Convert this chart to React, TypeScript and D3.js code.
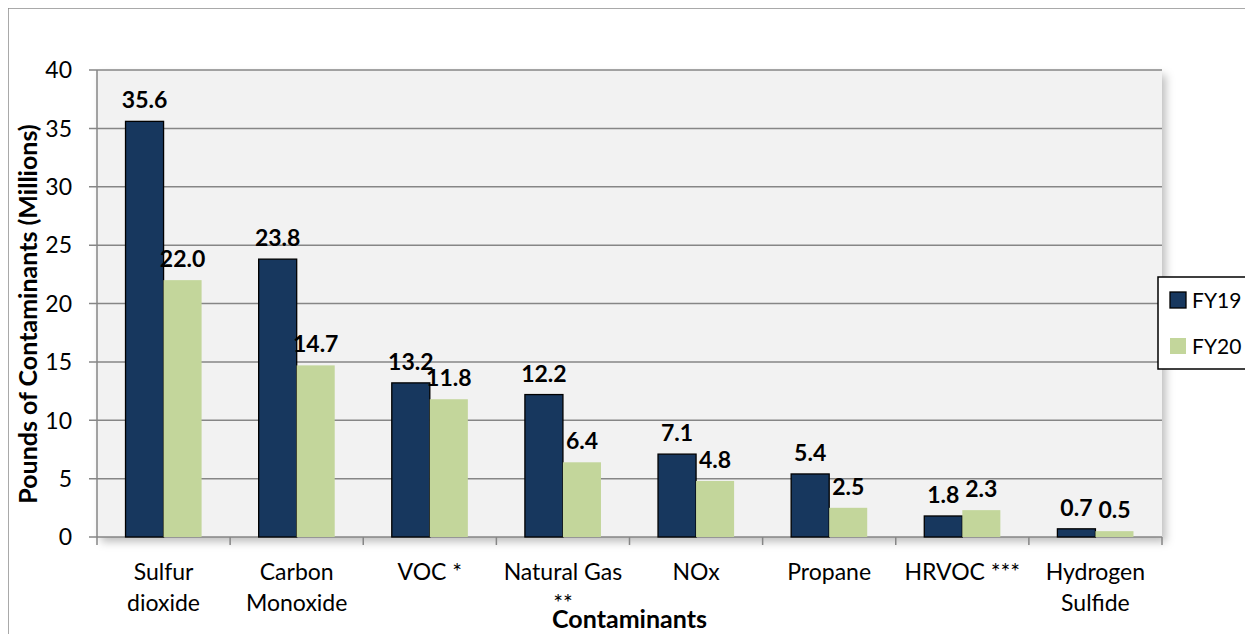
import React from "react";
import * as d3 from "d3";

const categories = [
  ["Sulfur", "dioxide"],
  ["Carbon", "Monoxide"],
  ["VOC *"],
  ["Natural Gas", "**"],
  ["NOx"],
  ["Propane"],
  ["HRVOC ***"],
  ["Hydrogen", "Sulfide"],
];
const seriesNames = ["FY19", "FY20"];
const fy19 = [35.6, 23.8, 13.2, 12.2, 7.1, 5.4, 1.8, 0.7];
const fy20 = [22.0, 14.7, 11.8, 6.4, 4.8, 2.5, 2.3, 0.5];
const yTicks = [0, 5, 10, 15, 20, 25, 30, 35, 40];

const colors = ["#17375E", "#C3D69B"];
const FONT = "Lato, 'Open Sans', sans-serif";
const FS = 23;

export default function App() {
  const W = 1245, H = 626;
  // svg origin at page (8,8)
  const left = 89, right = 1154, top = 62, bottom = 529;
  const keys = categories.map((_, i) => String(i));
  const x = d3.scaleBand<string>().domain(keys).range([left, right]).paddingInner(0).paddingOuter(0);
  const bw = x.bandwidth();
  const barW = bw / 3.5;
  const y = d3.scaleLinear().domain([0, 40]).range([bottom, top]);
  const data = [fy19, fy20];

  return (
    <svg width={W} height={H} style={{ display: "block", fontFamily: FONT }}>
      <defs>
        <filter id="sh" x="-5%" y="-5%" width="110%" height="115%">
          <feDropShadow dx="4" dy="5" stdDeviation="4" floodColor="#000" floodOpacity="0.25" />
        </filter>
      </defs>
      {/* outer border (left & top visible) */}
      <line x1={0} y1={0} x2={W} y2={0} stroke="#8c8c8c" strokeWidth={1.5} />
      <line x1={0} y1={0} x2={0} y2={H} stroke="#8c8c8c" strokeWidth={1.5} />
      {/* plot area */}
      <rect x={left} y={top} width={right - left} height={bottom - top} fill="#F2F2F2" filter="url(#sh)" />
      {yTicks.map((t) => (
        <g key={t}>
          <line x1={left - 8} x2={right} y1={y(t)} y2={y(t)} stroke="#868686" strokeWidth={1.5} />
          <text x={left - 25} y={y(t)} dy="0.36em" textAnchor="end" fontSize={FS} fill="#000">{t}</text>
        </g>
      ))}
      <line x1={left} x2={left} y1={top} y2={bottom} stroke="#868686" strokeWidth={1.5} />
      {keys.concat(["8"]).map((k, i) => {
        const xx = left + i * bw;
        return <line key={k} x1={xx} x2={xx} y1={bottom} y2={bottom + 8} stroke="#868686" strokeWidth={1.5} />;
      })}
      {/* bars */}
      {data.map((vals, s) =>
        vals.map((v, i) => {
          const bx = (x(String(i)) as number) + barW * 0.75 + s * barW;
          return (
            <g key={s + "-" + i}>
              <rect x={bx} y={y(v)} width={barW} height={bottom - y(v)} fill={colors[s]}
                stroke={s === 0 ? "#000" : "none"} strokeWidth={1.3} />
              <text x={bx + barW / 2} y={y(v) - 13} textAnchor="middle" fontSize={FS} fontWeight="bold" fill="#000">
                {v.toFixed(1)}
              </text>
            </g>
          );
        })
      )}
      {/* category labels */}
      {categories.map((lines, i) => (
        <text key={i} x={(x(String(i)) as number) + bw / 2} y={572} textAnchor="middle" fontSize={FS} fill="#000">
          {lines.map((l, j) => (
            <tspan key={j} x={(x(String(i)) as number) + bw / 2} dy={j === 0 ? 0 : 31}>{l}</tspan>
          ))}
        </text>
      ))}
      <text x={(left + right) / 2} y={620} textAnchor="middle" fontSize={25} fontWeight="bold">Contaminants</text>
      <text transform={`translate(29,306) rotate(-90)`} textAnchor="middle" fontSize={25} fontWeight="bold">
        Pounds of Contaminants (Millions)
      </text>
      {/* legend */}
      <rect x={1150} y={269} width={110} height={92} fill="#fff" stroke="#000" strokeWidth={1.5} />
      {seriesNames.map((n, i) => (
        <g key={n}>
          <rect x={1162} y={284 + i * 46} width={16} height={16} fill={colors[i]} stroke={i === 0 ? "#000" : "none"} strokeWidth={1.3} />
          <text x={1184} y={292 + i * 46} dy="0.36em" fontSize={21}>{n}</text>
        </g>
      ))}
    </svg>
  );
}
